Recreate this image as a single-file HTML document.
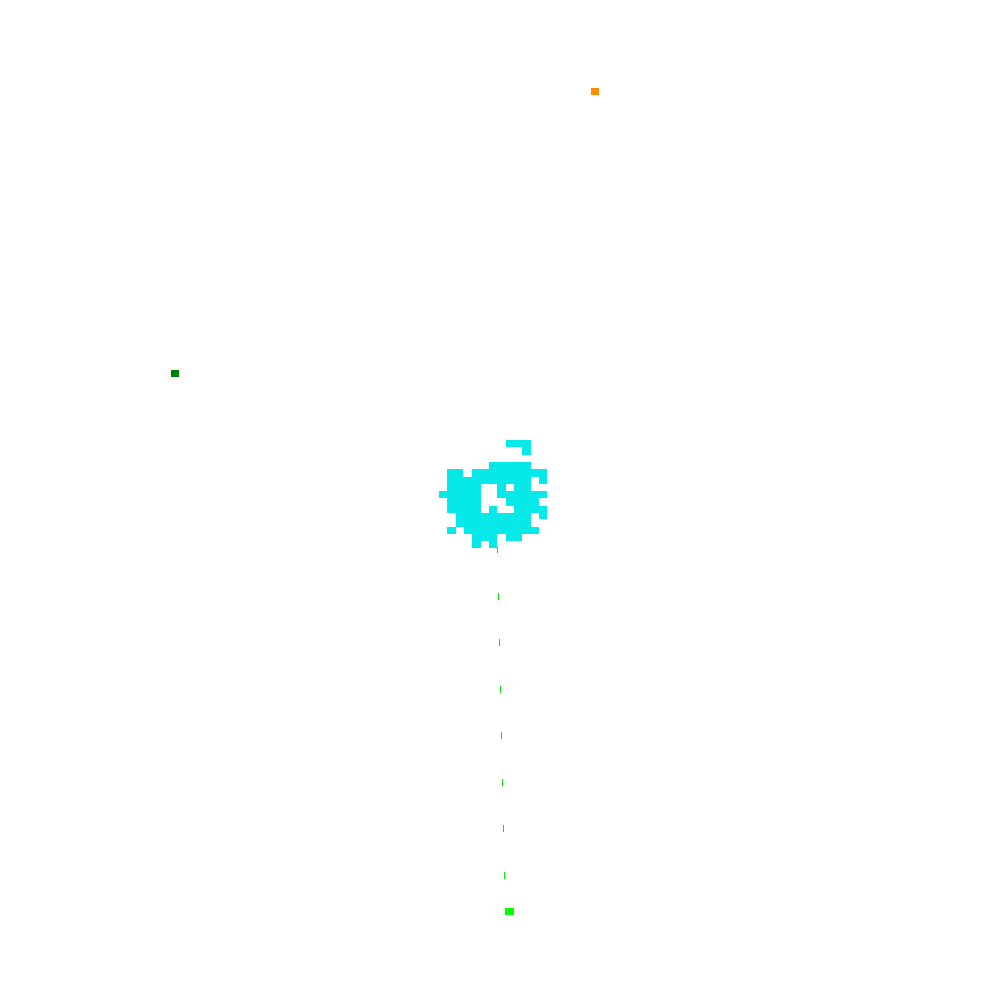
<!DOCTYPE html>
<html><head><style>html,body{margin:0;padding:0;background:#fff;width:1000px;height:1000px;overflow:hidden}</style></head>
<body>
<svg width="1000" height="1000" xmlns="http://www.w3.org/2000/svg" shape-rendering="crispEdges">
<rect x="591" y="88" width="8" height="7" fill="#ff8c00"/>
<rect x="171" y="370" width="8" height="7" fill="#008000"/>
<g fill="#07e8e8">
<rect x="506" y="440" width="25" height="7"/>
<rect x="522" y="447" width="9" height="8"/>
<rect x="489" y="462" width="42" height="7"/>
<rect x="447" y="469" width="16" height="8"/>
<rect x="472" y="469" width="75" height="8"/>
<rect x="447" y="477" width="84" height="7"/>
<rect x="539" y="477" width="8" height="7"/>
<rect x="447" y="484" width="34" height="7"/>
<rect x="497" y="484" width="9" height="7"/>
<rect x="514" y="484" width="17" height="7"/>
<rect x="439" y="491" width="42" height="7"/>
<rect x="497" y="491" width="50" height="7"/>
<rect x="447" y="498" width="34" height="8"/>
<rect x="506" y="498" width="33" height="8"/>
<rect x="447" y="506" width="34" height="7"/>
<rect x="489" y="506" width="8" height="7"/>
<rect x="514" y="506" width="33" height="7"/>
<rect x="456" y="513" width="75" height="14"/>
<rect x="539" y="513" width="8" height="6"/>
<rect x="447" y="527" width="9" height="7"/>
<rect x="464" y="527" width="75" height="7"/>
<rect x="472" y="534" width="25" height="7"/>
<rect x="506" y="534" width="16" height="7"/>
<rect x="472" y="541" width="9" height="7"/>
<rect x="489" y="541" width="8" height="7"/>
</g>
<g fill="#00ee00">
<rect x="497" y="547" width="1" height="6"/>
<rect x="498" y="593" width="1" height="7"/>
<rect x="499" y="639" width="1" height="7"/>
<rect x="500" y="686" width="1" height="7"/>
<rect x="501" y="732" width="1" height="7"/>
<rect x="502" y="779" width="1" height="7"/>
<rect x="503" y="825" width="1" height="7"/>
<rect x="504" y="872" width="1" height="7"/>
<rect x="505" y="908" width="9" height="7" fill="#00ff00"/>
</g>
</svg>
</body></html>
